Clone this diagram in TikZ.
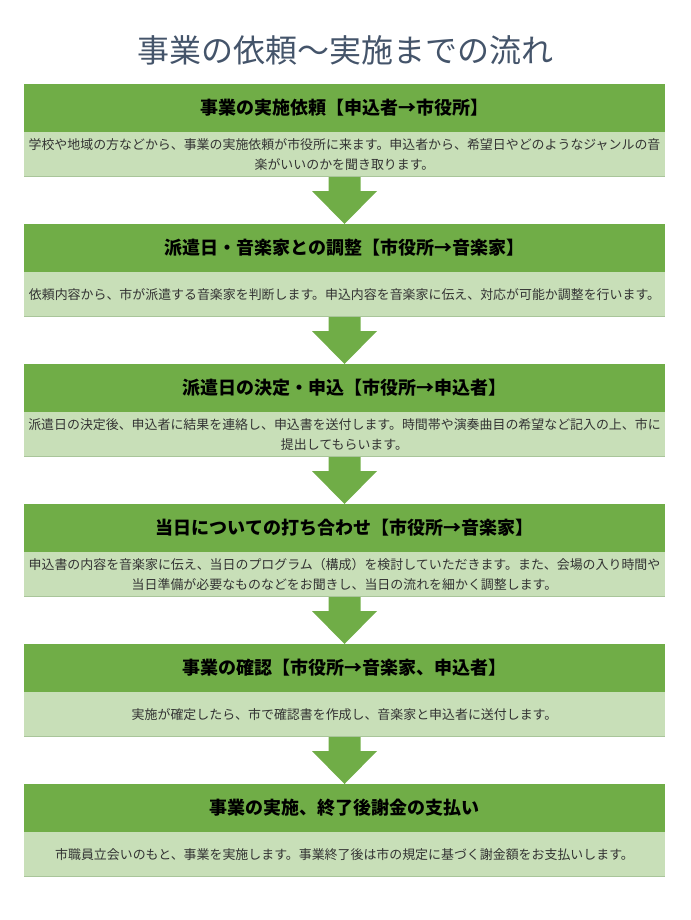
\documentclass[tikz,border=0pt]{standalone}
\usepackage{fontspec}
\setmainfont{Noto Sans CJK JP}
\usetikzlibrary{calc}
\definecolor{hdr}{HTML}{70AD47}
\definecolor{bdy}{HTML}{C8DFB8}
\definecolor{bdyedge}{HTML}{A9C59A}
\definecolor{ttl}{HTML}{44546A}
\definecolor{txt}{HTML}{333333}
\tikzset{
  x=0.75pt, y=-0.75pt,
  hbox/.style={fill=hdr, minimum width=480.75pt, minimum height=36pt, inner sep=0pt, outer sep=0pt, anchor=north, font=\fontsize{13.5pt}{16pt}\selectfont\bfseries, text=black},
  bbox/.style={fill=bdy, minimum width=480.75pt, minimum height=33.75pt, inner sep=0pt, outer sep=0pt, anchor=north, align=center, font=\fontsize{9.7pt}{15pt}\selectfont, text=txt},
  darrow/.style={fill=hdr, draw=none},
}
\newcommand{\flowarrow}[2]{%
  \fill[darrow] ($(#1.south)+(-16,0)$) -- ($(#1.south)+(16,0)$) -- ($(#1.south)+(16,14)$) -- ($(#1.south)+(32.5,14)$) -- (#2.north) -- ($(#1.south)+(-32.5,14)$) -- ($(#1.south)+(-16,14)$) -- cycle;
  \draw[bdyedge, line width=0.75pt] ($(#1.south west)+(0,-0.5)$) -- ($(#1.south east)+(0,-0.5)$);
}
\begin{document}
\begin{tikzpicture}
\useasboundingbox (0,0) rectangle (690,920);
\node[text=ttl, font=\fontsize{24pt}{28pt}\selectfont] (title) at (345,50) {事業の依頼～実施までの流れ};

\node[hbox] (h1) at (344.5,84) {事業の実施依頼【申込者→市役所】};
\node[bbox] (b1) at (h1.south) {学校や地域の方などから、事業の実施依頼が市役所に来ます。申込者から、希望日やどのようなジャンルの音\\楽がいいのかを聞き取ります。};

\node[hbox] (h2) at (344.5,224) {派遣日・音楽家との調整【市役所→音楽家】};
\node[bbox] (b2) at (h2.south) {依頼内容から、市が派遣する音楽家を判断します。申込内容を音楽家に伝え、対応が可能か調整を行います。};

\node[hbox] (h3) at (344.5,364) {派遣日の決定・申込【市役所→申込者】};
\node[bbox] (b3) at (h3.south) {派遣日の決定後、申込者に結果を連絡し、申込書を送付します。時間帯や演奏曲目の希望など記入の上、市に\\提出してもらいます。};

\node[hbox] (h4) at (344.5,504) {当日についての打ち合わせ【市役所→音楽家】};
\node[bbox] (b4) at (h4.south) {申込書の内容を音楽家に伝え、当日のプログラム（構成）を検討していただきます。また、会場の入り時間や\\当日準備が必要なものなどをお聞きし、当日の流れを細かく調整します。};

\node[hbox] (h5) at (344.5,644) {事業の確認【市役所→音楽家、申込者】};
\node[bbox] (b5) at (h5.south) {実施が確定したら、市で確認書を作成し、音楽家と申込者に送付します。};

\node[hbox] (h6) at (344.5,784) {事業の実施、終了後謝金の支払い};
\node[bbox] (b6) at (h6.south) {市職員立会いのもと、事業を実施します。事業終了後は市の規定に基づく謝金額をお支払いします。};

\flowarrow{b1}{h2}
\flowarrow{b2}{h3}
\flowarrow{b3}{h4}
\flowarrow{b4}{h5}
\flowarrow{b5}{h6}
\draw[bdyedge, line width=0.75pt] ($(b6.south west)+(0,-0.5)$) -- ($(b6.south east)+(0,-0.5)$);
\end{tikzpicture}
\end{document}
